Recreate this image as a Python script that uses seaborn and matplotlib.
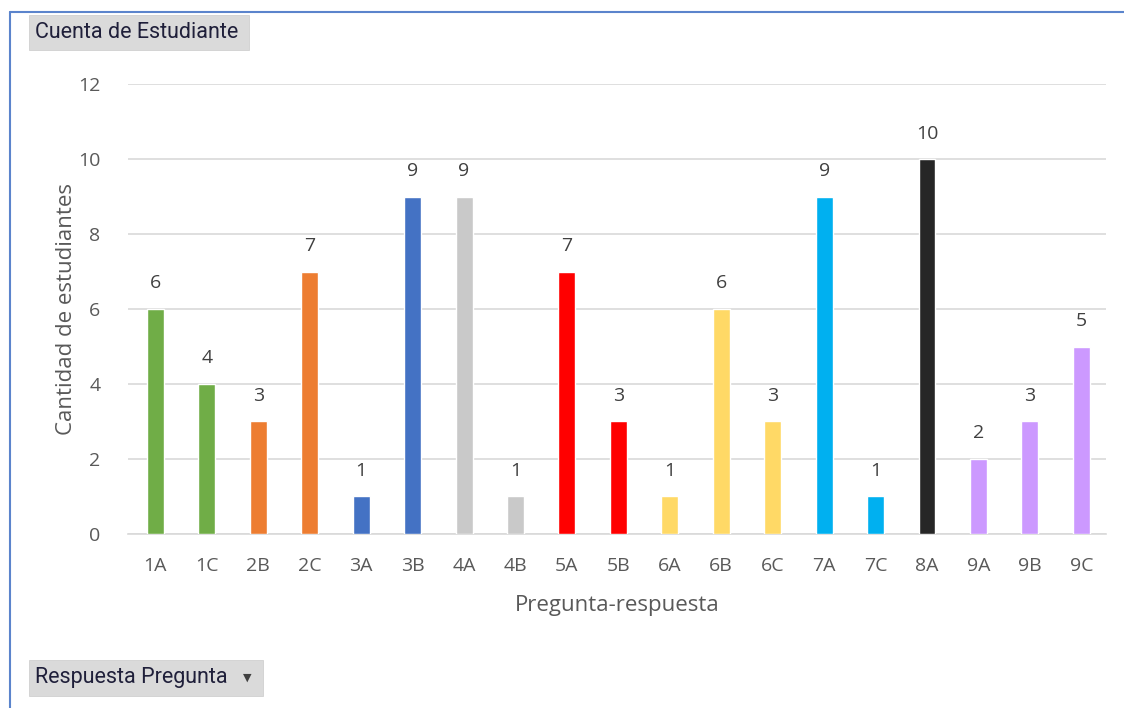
import pandas as pd
import seaborn as sns
import matplotlib
matplotlib.use("Agg")
import matplotlib.pyplot as plt
from matplotlib.patches import Rectangle
from matplotlib.lines import Line2D

# Data
CATEGORIES = ["1A", "1C", "2B", "2C", "3A", "3B", "4A", "4B", "5A", "5B",
              "6A", "6B", "6C", "7A", "7C", "8A", "9A", "9B", "9C"]
COUNTS = [6, 4, 3, 7, 1, 9, 9, 1, 7, 3, 1, 6, 3, 9, 1, 10, 2, 3, 5]
COLORS = ["#70AD47", "#70AD47", "#ED7D31", "#ED7D31", "#4472C4", "#4472C4",
          "#C9C9C9", "#C9C9C9", "#FF0000", "#FF0000", "#FFD966", "#FFD966",
          "#FFD966", "#00B0F0", "#00B0F0", "#262626", "#CC99FF", "#CC99FF",
          "#CC99FF"]
Y_TICKS = [0, 2, 4, 6, 8, 10, 12]

TEXT_GREY = "#595959"

sns.set_theme(style="white")
plt.rcParams["font.family"] = ["Open Sans", "DejaVu Sans"]

df = pd.DataFrame({"pregunta": CATEGORIES, "cuenta": COUNTS})

fig = plt.figure(figsize=(11.24, 7.08), dpi=100)
ax = fig.add_axes([0.114, 0.246, 0.870, 0.635])

sns.barplot(data=df, x="pregunta", y="cuenta", hue="pregunta",
            palette=COLORS, width=0.33, legend=False, ax=ax,
            saturation=1, zorder=3)

ax.set_ylim(0, 12)
ax.set_xlim(-0.53, 18.48)
ax.set_yticks(Y_TICKS)
ax.grid(axis="y", color="#D9D9D9", linewidth=1.2, zorder=0)
for side in ["top", "right", "left"]:
    ax.spines[side].set_visible(False)
ax.spines["bottom"].set_color("#D9D9D9")
ax.spines["bottom"].set_linewidth(1.2)
ax.tick_params(axis="x", length=0, labelsize=14, labelcolor=TEXT_GREY, pad=17)
ax.tick_params(axis="y", length=0, labelsize=14, labelcolor=TEXT_GREY, pad=20)

for i, v in enumerate(COUNTS):
    ax.annotate(str(v), (i, v), xytext=(0, 12), textcoords="offset points",
                ha="center", va="bottom", fontsize=14, color="#404040")

ax.set_xlabel("Pregunta-respuesta", fontsize=16, color=TEXT_GREY, labelpad=14)
ax.set_ylabel("Cantidad de estudiantes", fontsize=16, color=TEXT_GREY, labelpad=1)

# chart frame (blue border, top and left)
W, H = 1124, 708
fig.add_artist(Line2D([10 / W, 1], [1 - 12 / H, 1 - 12 / H], color="#5B84CC",
                      linewidth=1.5, transform=fig.transFigure))
fig.add_artist(Line2D([10 / W, 10 / W], [0, 1 - 12 / H], color="#5B84CC",
                      linewidth=1.5, transform=fig.transFigure))

# pivot field buttons
def field_button(x0, y0, x1, y1, label):
    fig.add_artist(Rectangle((x0 / W, 1 - y1 / H), (x1 - x0) / W, (y1 - y0) / H,
                             transform=fig.transFigure, facecolor="#DADADA",
                             edgecolor="#D0D0D0", linewidth=0.6))
    fig.text((x0 + 6) / W, 1 - (y0 + y1) / 2 / H, label, fontsize=15.5,
             color="#1F1F3A", va="center", ha="left",
             family=["Liberation Sans Narrow", "Roboto", "DejaVu Sans"])

field_button(29, 15, 249, 50, "Cuenta de Estudiante")
field_button(29, 660, 263, 696, "Respuesta Pregunta")
fig.text(247 / W, 1 - 678 / H, "\u25BC", fontsize=8, color="#404040",
         ha="center", va="center", family=["DejaVu Sans"])

fig.savefig("out.png", dpi=100, facecolor="white")
